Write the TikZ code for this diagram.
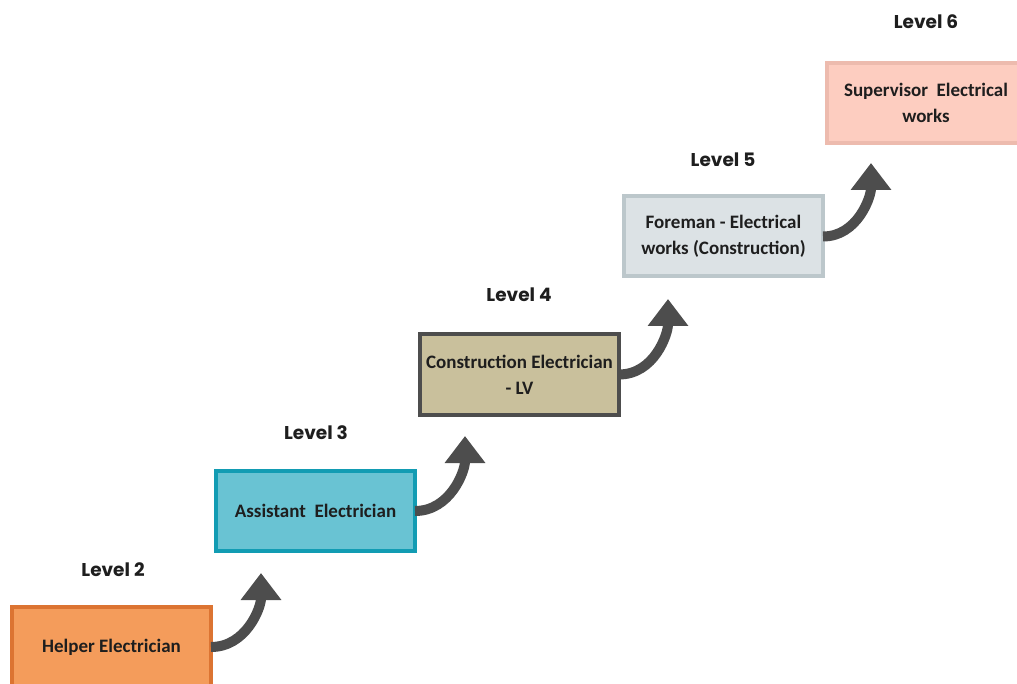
\documentclass[tikz,border=0pt]{standalone}
\usepackage{fontspec}
\setmainfont{Carlito}
\newfontfamily\levelfont{Poppins}
\usetikzlibrary{arrows.meta}
\definecolor{orfill}{HTML}{F49C5B}
\definecolor{ordraw}{HTML}{DC7432}
\definecolor{tlfill}{HTML}{69C3D3}
\definecolor{tldraw}{HTML}{129CB3}
\definecolor{khfill}{HTML}{C9C09C}
\definecolor{khdraw}{HTML}{4D4D4D}
\definecolor{gyfill}{HTML}{DCE2E5}
\definecolor{gydraw}{HTML}{BCC7CB}
\definecolor{pkfill}{HTML}{FDCDC0}
\definecolor{pkdraw}{HTML}{EDBBAE}
\definecolor{arrcol}{HTML}{4D4D4D}
\definecolor{txtcol}{HTML}{1E1E1E}
\tikzset{
  levelbox/.style={draw, line width=4pt, inner sep=0pt, minimum width=199pt, minimum height=80pt,
    align=center, text=txtcol, font=\fontsize{19}{26}\selectfont\bfseries},
  levellabel/.style={font=\levelfont\fontsize{18.5}{22}\selectfont\bfseries, text=txtcol, inner sep=0pt},
  uparrow/.style={draw=arrcol, line width=10pt, -{Triangle[width=39pt,length=27pt]}}
}
\begin{document}
\begin{tikzpicture}[x=1pt,y=-1pt]
\useasboundingbox (0,0) rectangle (1017,684);
\begin{scope}
\clip (0,0) rectangle (1017,684);
\node[levelbox, fill=orfill, draw=ordraw] (b1) at (111.5,647) {Helper Electrician};
\node[levelbox, fill=tlfill, draw=tldraw] (b2) at (315.5,511) {Assistant\ \ Electrician};
\node[levelbox, fill=khfill, draw=khdraw] (b3) at (519.5,374.5) {Construction Electrician\\- LV};
\node[levelbox, fill=gyfill, draw=gydraw] (b4) at (723.5,236.5) {Foreman - Electrical\\works (Construction)};
\node[levelbox, fill=pkfill, draw=pkdraw] (b5) at (926,103) {Supervisor\ \ Electrical\\works};
\end{scope}
\node[levellabel] (l2) at (113,570) {Level 2};
\node[levellabel] (l3) at (316,433) {Level 3};
\node[levellabel] (l4) at (519,295) {Level 4};
\node[levellabel] (l5) at (723,160) {Level 5};
\node[levellabel] (l6) at (926,22) {Level 6};
\coordinate (t1) at (261,573);
\coordinate (t2) at (465,436);
\coordinate (t3) at (668,299);
\coordinate (t4) at (871,163);
\draw[uparrow] ([xshift=-2pt]b1.east) to[out=0,in=-90] (t1);
\draw[uparrow] ([xshift=-2pt]b2.east) to[out=0,in=-90] (t2);
\draw[uparrow] ([xshift=-2pt]b3.east) to[out=0,in=-90] (t3);
\draw[uparrow] ([xshift=-2pt]b4.east) to[out=0,in=-90] (t4);
\end{tikzpicture}
\end{document}
